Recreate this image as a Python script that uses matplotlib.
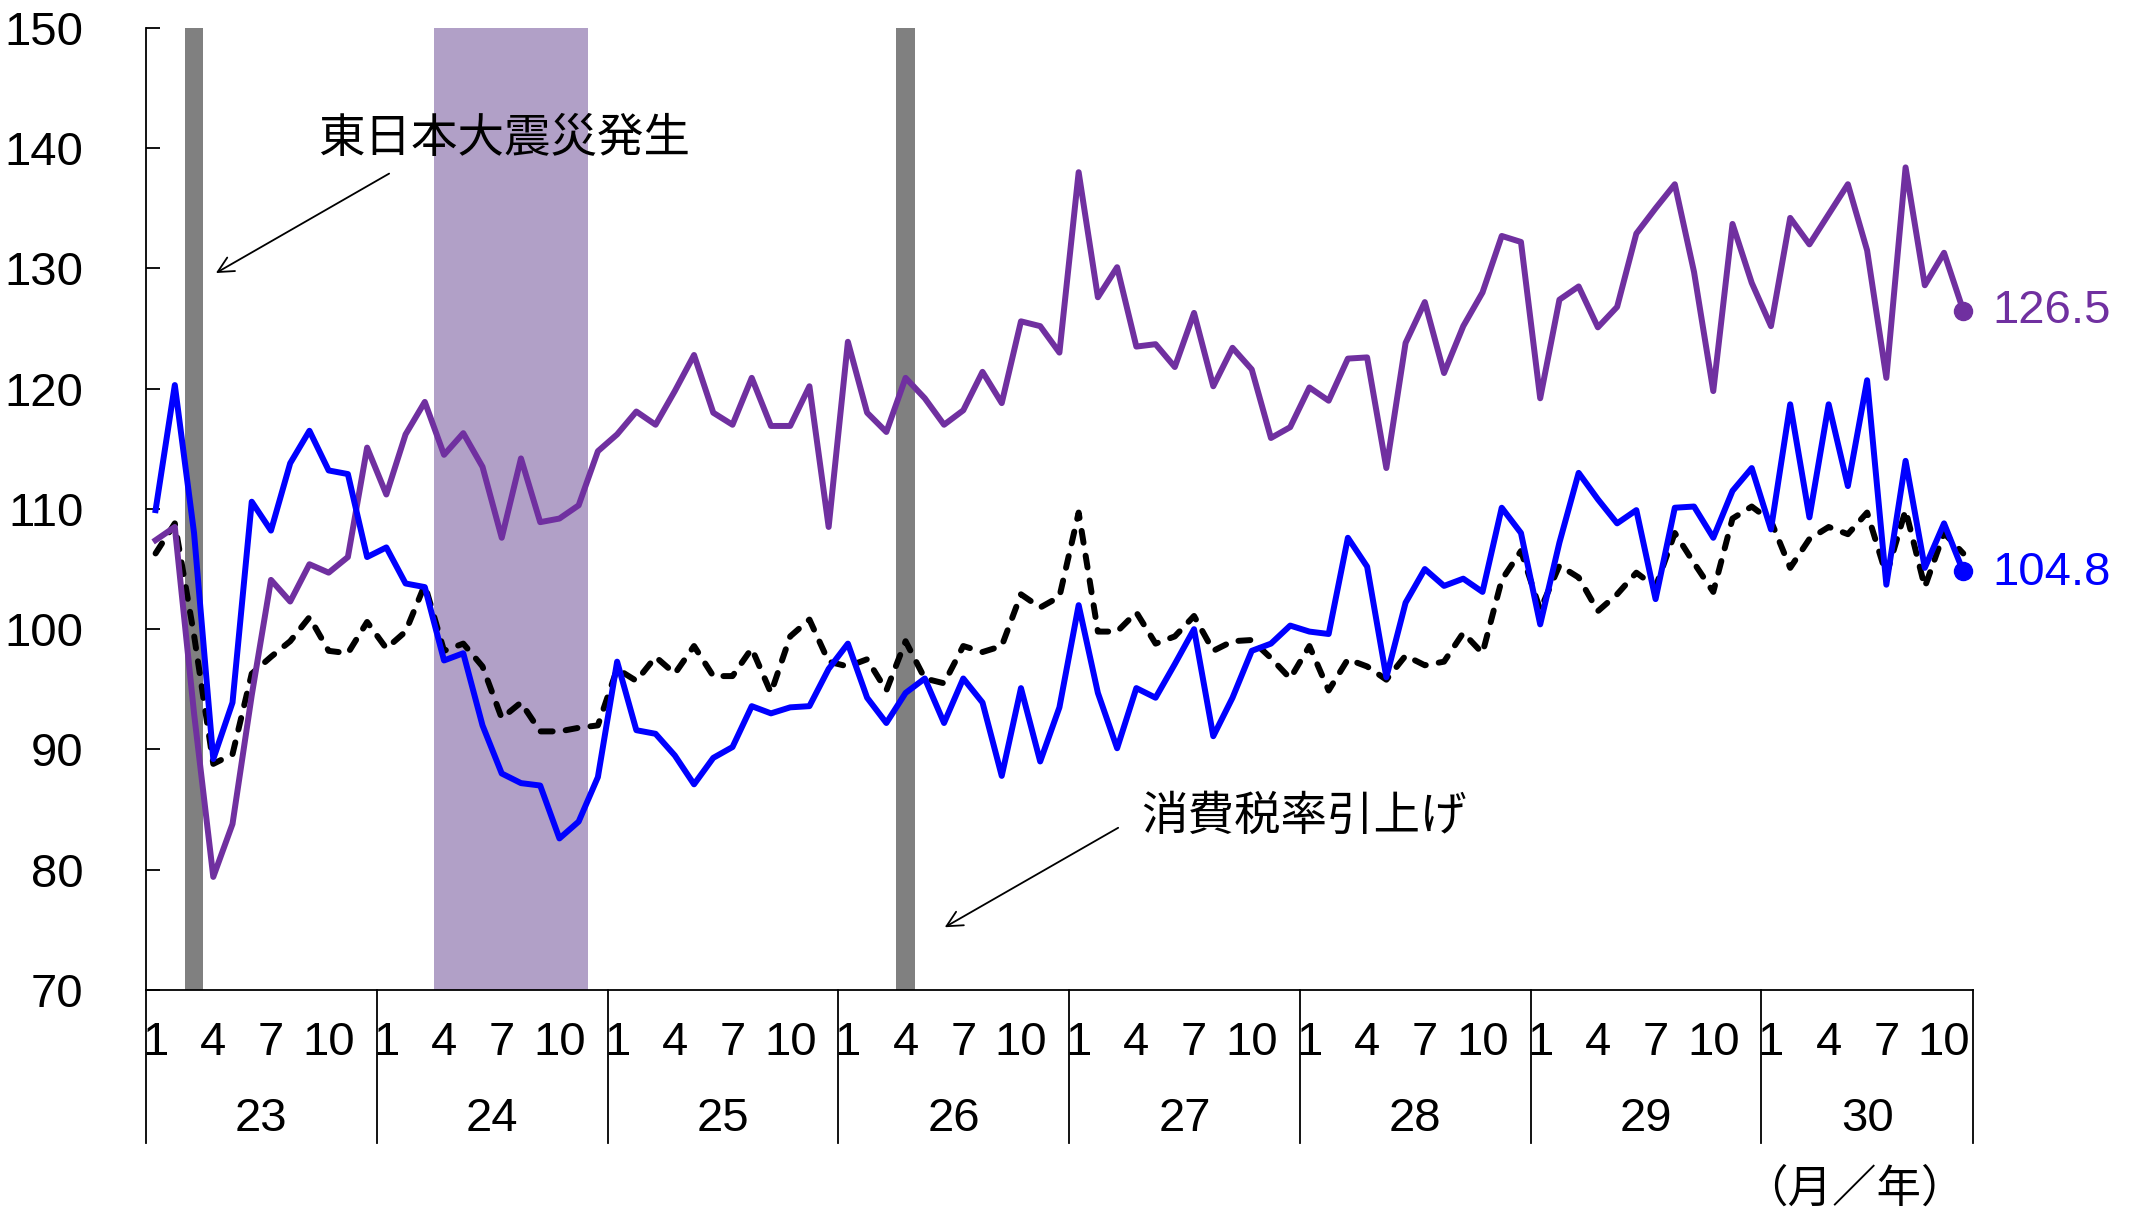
import numpy as np
import matplotlib
matplotlib.use("Agg")
import matplotlib.pyplot as plt
import matplotlib.transforms as mtransforms
from matplotlib import font_manager

# monthly index, Jan H23 (2011) .. Nov H30 (2018)
blue_vals = [109.9, 120.3, 108.0, 89.2, 93.9, 110.6, 108.2, 113.8, 116.5, 113.2, 112.9, 106.0,
             106.8, 103.8, 103.5, 97.4, 98.0, 92.0, 88.0, 87.2, 87.0, 82.6, 84.0, 87.7,
             97.3, 91.6, 91.3, 89.5, 87.1, 89.3, 90.2, 93.6, 93.0, 93.5, 93.6, 96.7,
             98.8, 94.3, 92.2, 94.7, 95.9, 92.2, 95.9, 93.9, 87.8, 95.1, 89.0, 93.5,
             102.0, 94.7, 90.1, 95.1, 94.3, 97.1, 100.0, 91.1, 94.3, 98.2, 98.8, 100.3,
             99.8, 99.6, 107.6, 105.2, 96.0, 102.2, 105.0, 103.6, 104.2, 103.1, 110.1, 108.0,
             100.4, 107.2, 113.0, 110.8, 108.8, 109.9, 102.5, 110.1, 110.2, 107.6, 111.5, 113.4,
             108.3, 118.7, 109.3, 118.7, 111.9, 120.7, 103.7, 114.0, 105.1, 108.8, 104.8]

purple_vals = [107.4, 108.5, 93.0, 79.4, 83.8, 94.5, 104.1, 102.3, 105.4, 104.7, 106.0, 115.1,
               111.2, 116.2, 118.9, 114.5, 116.3, 113.5, 107.6, 114.2, 108.9, 109.2, 110.3, 114.8,
               116.2, 118.1, 117.0, 119.8, 122.8, 118.0, 117.0, 120.9, 116.9, 116.9, 120.2, 108.5,
               123.9, 118.0, 116.4, 120.9, 119.2, 117.0, 118.2, 121.4, 118.8, 125.6, 125.2, 123.0,
               138.0, 127.6, 130.1, 123.5, 123.7, 121.8, 126.3, 120.2, 123.4, 121.6, 115.9, 116.8,
               120.1, 119.0, 122.5, 122.6, 113.4, 123.8, 127.2, 121.3, 125.2, 128.0, 132.7, 132.2,
               119.2, 127.4, 128.5, 125.1, 126.8, 132.9, 135.0, 137.0, 129.7, 119.8, 133.7, 128.8,
               125.2, 134.2, 132.0, 134.5, 137.0, 131.5, 120.9, 138.4, 128.6, 131.3, 126.5]

black_vals = [106.3, 108.8, 99.5, 88.8, 89.6, 96.3, 97.7, 99.0, 101.0, 98.2, 98.0, 100.6,
              98.4, 99.8, 103.7, 98.2, 98.8, 96.9, 92.6, 93.9, 91.5, 91.5, 91.8, 92.0,
              96.7, 95.7, 97.7, 96.3, 98.6, 96.1, 96.1, 98.4, 94.7, 99.4, 100.8, 97.3,
              96.9, 97.5, 94.9, 99.0, 95.9, 95.5, 98.6, 98.1, 98.6, 102.9, 101.8, 102.7,
              109.7, 99.8, 99.8, 101.4, 98.8, 99.4, 101.1, 98.2, 99.0, 99.1, 97.6, 95.9,
              98.6, 94.9, 97.5, 96.9, 95.8, 97.8, 97.0, 97.3, 99.7, 98.0, 104.1, 106.5,
              101.6, 105.3, 104.3, 101.5, 102.9, 104.7, 103.5, 108.0, 105.5, 103.1, 109.2, 110.2,
              109.0, 105.1, 107.5, 108.5, 107.9, 109.7, 104.5, 109.9, 103.5, 108.0, 106.3]

year_labels = ["23", "24", "25", "26", "27", "28", "29", "30"]
month_labels = ["1", "4", "7", "10"]
event_months = [2, 39]          # earthquake (Mar 23), tax hike (Apr 26)
recession = (15, 23)            # Apr 24 .. Nov 24
ann_quake = "東日本大震災発生"
ann_tax = "消費税率引上げ"
unit_label = "（月／年）"

PURPLE = "#7030A0"
BLUE = "#0000FF"

names = {f.name for f in font_manager.fontManager.ttflist}
num_font = "Liberation Sans Narrow" if "Liberation Sans Narrow" in names else "Liberation Sans"
jp_font = ["Noto Sans CJK JP", "DejaVu Sans"]
FS = 34

n = len(blue_vals)
x = np.arange(n) + 0.5

fig = plt.figure(figsize=(21.34, 12.08), dpi=100)
ax = fig.add_axes([0.0684, 0.1805, 0.8561, 0.7964])

ax.axvspan(recession[0], recession[1], color="#B1A0C7", lw=0, zorder=1)
for m in event_months:
    ax.axvspan(m + 0.02, m + 0.97, color="#808080", lw=0, zorder=1)

ax.plot(x, black_vals, color="black", lw=4.3, ls=(0, (2.0, 2.2)), dash_capstyle="round",
        solid_joinstyle="round", zorder=3)
ax.plot(x, purple_vals, color=PURPLE, lw=4.3, zorder=4, solid_joinstyle="round")
ax.plot(x, blue_vals, color=BLUE, lw=4.3, zorder=5, solid_joinstyle="round")

# end markers and values
ax.plot(x[-1], purple_vals[-1], "o", color=PURPLE, ms=13, zorder=6, clip_on=False)
ax.plot(x[-1], blue_vals[-1], "o", color=BLUE, ms=13, zorder=6, clip_on=False)
ax.text(96.0, purple_vals[-1], "%.1f" % purple_vals[-1], color=PURPLE, fontsize=FS,
        family=num_font, va="center", ha="left")
ax.text(96.0, blue_vals[-1] - 0.1, "%.1f" % blue_vals[-1], color=BLUE, fontsize=FS,
        family=num_font, va="center", ha="left")

ax.set_xlim(0, n)
ax.set_ylim(70, 150)
ax.set_yticks(np.arange(70, 151, 10))
ax.set_xticks([])
for s in ["top", "right"]:
    ax.spines[s].set_visible(False)
for s in ["left", "bottom"]:
    ax.spines[s].set_linewidth(1.3)
ax.tick_params(axis="y", direction="in", length=10, width=1.3, pad=45, labelsize=FS)
for lab in ax.get_yticklabels():
    lab.set_family(num_font)

# annotations
ax.text(8.95, 140.8, ann_quake, fontsize=33.5, family=jp_font, ha="left", va="center")
ax.annotate("", xy=(3.51, 129.5), xytext=(12.77, 138.0),
            arrowprops=dict(arrowstyle="->", lw=1.3, color="black", mutation_scale=28))
ax.text(51.77, 84.4, ann_tax, fontsize=33.5, family=jp_font, ha="left", va="center")
ax.annotate("", xy=(41.41, 75.1), xytext=(50.68, 83.6),
            arrowprops=dict(arrowstyle="->", lw=1.3, color="black", mutation_scale=28))

# month / year table under the axis
trans = mtransforms.blended_transform_factory(ax.transData, ax.transAxes)
bounds = list(range(0, n, 12)) + [n]
for b in bounds:
    ax.plot([b, b], [0, -0.159], color="black", lw=1.3, transform=trans, clip_on=False)
for k, yl in enumerate(year_labels):
    start = k * 12
    end = min(start + 12, n)
    for ml in month_labels:
        m = start + int(ml) - 1
        if m < n:
            ax.text(m + 0.5, -0.0547, ml, transform=trans, fontsize=FS, family=num_font,
                    ha="center", va="center")
    ax.text((start + end) / 2, -0.1339, yl, transform=trans, fontsize=FS, family=num_font,
            ha="center", va="center")

ax.text(88.85, -0.207, unit_label, transform=trans, fontsize=32, family=jp_font,
        ha="center", va="center")

fig.savefig("out.png", dpi=100)
